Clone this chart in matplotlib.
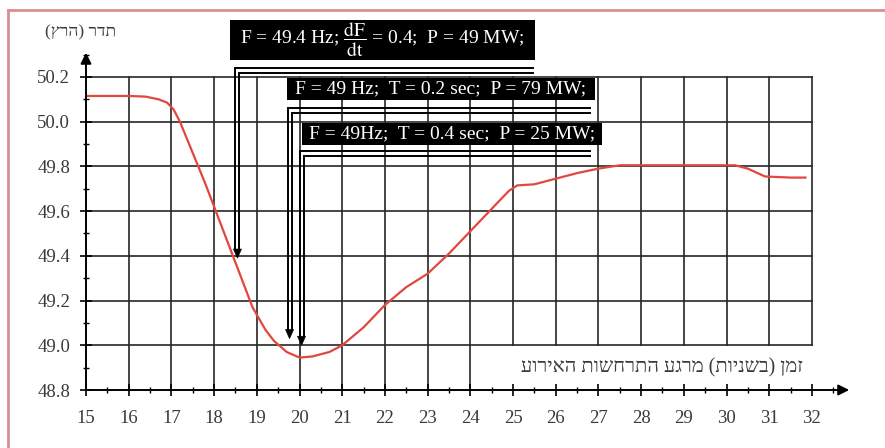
import numpy as np
import matplotlib
matplotlib.use("Agg")
import matplotlib.pyplot as plt
import matplotlib.ticker as ticker
from matplotlib.patches import Rectangle, Polygon
from matplotlib.lines import Line2D

# frequency after the event (seconds, Hz)
time_s = [15.0, 16.0, 16.4, 16.7, 16.9, 17.05, 17.2, 17.5, 17.8, 18.0, 18.4, 18.7,
          18.9, 19.2, 19.4, 19.7, 20.0, 20.3, 20.7, 21.0, 21.5, 22.0, 22.5, 23.0,
          23.5, 24.0, 24.5, 24.9, 25.1, 25.5, 26.0, 26.5, 27.0, 27.5, 30.2, 30.5,
          30.9, 31.5, 31.85]
freq_hz = [50.115, 50.115, 50.112, 50.10, 50.085, 50.055, 50.0, 49.86, 49.72, 49.62,
           49.42, 49.27, 49.17, 49.07, 49.02, 48.97, 48.945, 48.95, 48.97, 49.0,
           49.08, 49.18, 49.26, 49.32, 49.41, 49.51, 49.61, 49.69, 49.715, 49.72,
           49.745, 49.77, 49.79, 49.805, 49.805, 49.79, 49.755, 49.75, 49.75]

# load-shedding steps: time, frequency at trigger, label
shed_t = [18.5, 19.72, 20.0]
shed_f = [49.39, 49.03, 49.0]
shed_labels = [r'F = 49.4 Hz; $\dfrac{\mathrm{dF}}{\mathrm{dt}}$ = 0.4;  P = 49 MW;',
               'F = 49 Hz;  T = 0.2 sec;  P = 79 MW;',
               'F = 49Hz;  T = 0.4 sec;  P = 25 MW;']

x_ticks = list(range(15, 33))
y_ticks = [48.8, 49.0, 49.2, 49.4, 49.6, 49.8, 50.0, 50.2]

x_title = 'זמן (בשניות) מרגע התרחשות האירוע'
y_title = 'תדר (הרץ)'


def rtl(s):
    # matplotlib lays text out left to right, so flip Hebrew for display
    return s[::-1].translate(str.maketrans('()', ')('))


plt.rcParams['font.family'] = ['Liberation Serif', 'DejaVu Serif']
plt.rcParams['mathtext.fontset'] = 'stix'

W, H = 885, 448
fig = plt.figure(figsize=(W / 100, H / 100), dpi=100)
ax = fig.add_axes([86 / W, (H - 390) / H, 764 / W, 345 / H])
ax.set_xlim(15, 15 + 764 / 42.7)
ax.set_ylim(48.8, 48.8 + 345 / 223.6)
px = 1 / 42.7    # one pixel in x units
py = 1 / 223.6   # one pixel in y units

for s in ax.spines.values():
    s.set_visible(False)

# grid, cut short under the axis title on the right
grid_c = '#262626'
for x in x_ticks[1:]:
    ax.plot([x, x], [48.8 if x < 25 else 49.0, 50.2], color=grid_c, lw=1.2, zorder=1)
for y in y_ticks[1:]:
    ax.plot([15, 32], [y, y], color=grid_c, lw=1.2, zorder=1)

ax.plot(time_s, freq_hz, color='#e2473f', lw=1.6, zorder=3)

# axes with arrow heads
ax.annotate('', xy=(15 + 766 / 42.7, 48.8), xytext=(14.98, 48.8),
            arrowprops=dict(arrowstyle='-|>', color='k', lw=1.4, mutation_scale=16),
            annotation_clip=False, zorder=4)
ax.annotate('', xy=(15, 50.2 + 27 * py), xytext=(15, 48.795),
            arrowprops=dict(arrowstyle='-|>', color='k', lw=1.4, mutation_scale=16),
            annotation_clip=False, zorder=4)

ax.set_xticks(x_ticks)
ax.set_yticks(y_ticks)
ax.yaxis.set_major_formatter(ticker.FormatStrFormatter('%.1f'))
ax.xaxis.set_minor_locator(ticker.MultipleLocator(0.5))
ax.yaxis.set_minor_locator(ticker.MultipleLocator(0.1))
ax.tick_params(which='major', direction='inout', length=9, width=1.2, color='k',
               labelsize=13.5, labelcolor='#3a3a3a')
ax.tick_params(which='minor', direction='inout', length=4, width=1.0, color='k')
ax.tick_params(axis='x', pad=10)
ax.tick_params(axis='y', pad=7)

ax.text(31.8, 48.9, rtl(x_title), ha='right', va='center', fontsize=14.5,
        color='#3a3a3a', family=['Liberation Serif', 'DejaVu Sans'])
fig.text(81 / W, 1 - 32 / H, rtl(y_title), ha='center', va='center', fontsize=12.5,
         color='#3a3a3a', family=['Liberation Serif', 'DejaVu Sans'])

# label boxes (left, top, right, bottom in data units) and connector tops
boxes = [(18.37, 50.455, 25.52, 50.276), (19.71, 50.196, 26.92, 50.097),
         (20.06, 49.994, 27.08, 49.896)]
conn_top = [50.24, 50.06, 49.87]
conn_right = [25.47, 26.8, 26.8]

for i in range(3):
    x0, y1, x1, y0 = boxes[i]
    ax.add_patch(Rectangle((x0, y0), x1 - x0, y1 - y0, fc='black', ec='none',
                           clip_on=False, zorder=5))
    ax.text((x0 + x1) / 2, (y0 + y1) / 2, shed_labels[i], color='white',
            ha='center', va='center', fontsize=14, zorder=6, clip_on=False)

    t, f = shed_t[i], shed_f[i]
    top, right = conn_top[i], conn_right[i]
    gap_x, gap_y = 4 * px, 5 * py
    head_h = 9 * py
    ax.plot([right, t, t], [top, top, f + head_h], color='k', lw=1.4,
            clip_on=False, zorder=4, solid_joinstyle='miter')
    ax.plot([right, t + gap_x, t + gap_x], [top - gap_y, top - gap_y, f + head_h],
            color='k', lw=1.4, clip_on=False, zorder=4, solid_joinstyle='miter')
    cx = t + gap_x / 2
    ax.add_patch(Polygon([(cx - 4 * px, f + head_h), (cx + 4 * px, f + head_h), (cx, f)],
                         closed=True, fc='k', ec='k', lw=0.5, zorder=4))

# page frame
fig.add_artist(Line2D([8 / W, 1], [1 - 10 / H, 1 - 10 / H], color='#d98f8f', lw=2))
fig.add_artist(Line2D([8 / W, 8 / W], [0, 1 - 10 / H], color='#d98f8f', lw=2))

fig.savefig('out.png', dpi=100)
